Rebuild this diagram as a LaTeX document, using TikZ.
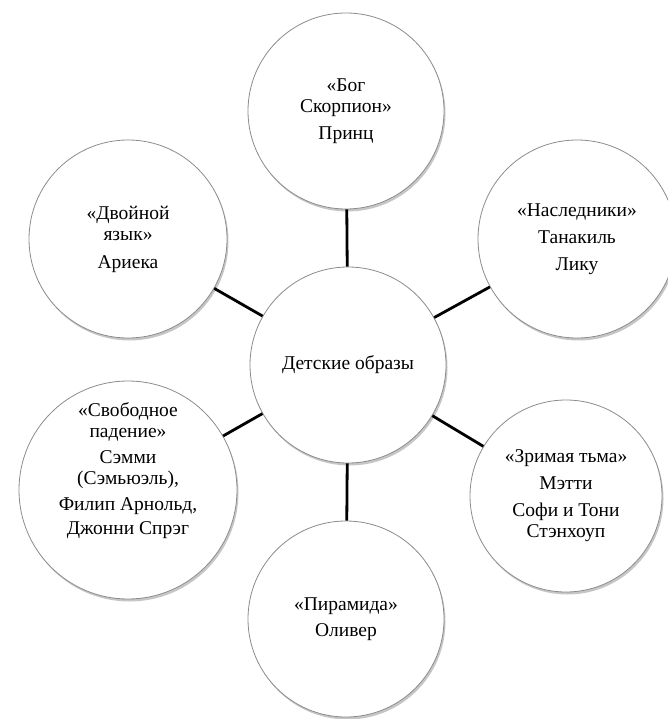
\documentclass[tikz,border=0pt]{standalone}
\usepackage{fontspec}
\setmainfont{LiberationSerif}[Extension=.ttf, UprightFont=*-Regular, BoldFont=*-Bold]
\usetikzlibrary{shadows}

\begin{document}
\begin{tikzpicture}[x=1pt, y=-1pt,
  bubble/.style={circle, draw=black!45, line width=0.8pt, fill=white, inner sep=0pt,
    align=center, font=\fontsize{19.5}{21}\selectfont,
    drop shadow={opacity=0.45, shadow xshift=1.5pt, shadow yshift=-2.5pt}},
  caption/.style={align=center, inner sep=0pt, font=\fontsize{19.5}{21}\selectfont},
  link/.style={line width=2.8pt}]

  \useasboundingbox (0,0) rectangle (668,719);

  % Define circles
  \node[bubble, minimum size=196pt] (kids) at (348,365) {Детские образы};
  \node[bubble, minimum size=196pt] (god) at (346,111) {«Бог\\Скорпион»\\[6pt]Принц};
  \node[bubble, minimum size=198pt] (tongue) at (128,239) {«Двойной\\язык»\\[7pt]Ариека};
  \node[bubble, minimum size=198pt] (heirs) at (577,239) {«Наследники»\\[6pt]Танакиль\\[6pt]Лику};
  \node[bubble, minimum size=218pt] (fall) at (128,490) {};
  \node[caption] (fall-text) at (128,471) {«Свободное\\падение»\\[5pt]Сэмми\\(Сэмьюэль),\\[5pt]Филип Арнольд,\\[3pt]Джонни Спрэг};
  \node[bubble, minimum size=192pt] (dark) at (566,496) {«Зримая тьма»\\[6pt]Мэтти\\[6pt]Софи и Тони\\Стэнхоуп};
  \node[bubble, minimum size=196pt] (pyramid) at (346,619) {«Пирамида»\\[5pt]Оливер};

  % Links
  \draw[link] (kids) -- (god);
  \draw[link] (kids) -- (tongue);
  \draw[link] (kids) -- (heirs);
  \draw[link] (kids) -- (fall);
  \draw[link] (kids) -- (dark);
  \draw[link] (kids) -- (pyramid);

\end{tikzpicture}
\end{document}
